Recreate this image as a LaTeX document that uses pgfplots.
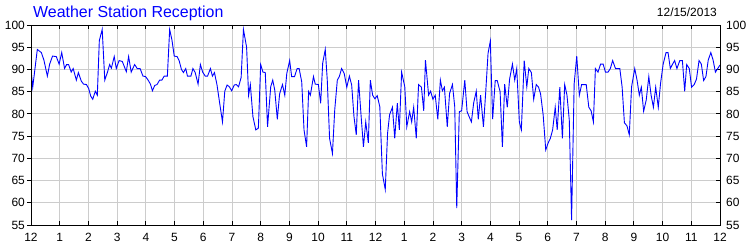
\documentclass[border=0pt]{standalone}
\usepackage{pgfplots}
\usepackage{pgfplotstable}
\pgfplotsset{compat=1.18}
\usepackage{fontspec}
\setmainfont{Liberation Sans}

\pgfplotstableread{
h v
0.00 90.0
0.06 86.0
0.22 94.5
0.36 93.8
0.45 92.1
0.57 88.5
0.65 91.2
0.75 93.0
0.88 92.9
0.98 91.2
1.07 93.8
1.17 90.2
1.24 91.1
1.31 91.1
1.40 89.4
1.47 90.2
1.58 87.6
1.65 89.3
1.75 87.4
1.83 86.7
1.93 86.6
2.01 85.7
2.08 84.0
2.15 83.3
2.24 85.1
2.31 84.2
2.38 96.5
2.48 99.0
2.57 87.6
2.66 89.3
2.74 91.1
2.80 90.3
2.90 92.9
2.97 90.2
3.07 92.0
3.18 91.8
3.32 89.5
3.40 92.9
3.49 89.4
3.61 91.1
3.70 90.2
3.80 90.2
3.90 88.5
3.99 88.4
4.08 87.6
4.16 86.7
4.23 85.2
4.31 86.4
4.39 86.6
4.48 87.6
4.56 87.6
4.64 88.5
4.75 88.5
4.83 99.0
4.91 96.6
4.99 93.0
5.09 92.9
5.16 92.0
5.24 90.0
5.31 89.3
5.39 90.2
5.45 88.5
5.57 88.5
5.64 90.2
5.72 89.3
5.82 86.7
5.90 91.1
5.98 89.4
6.07 88.5
6.15 88.5
6.25 90.2
6.32 88.5
6.39 89.3
6.48 86.5
6.57 82.5
6.67 78.2
6.75 85.1
6.83 86.5
6.91 86.1
6.99 85.2
7.08 86.5
7.15 86.6
7.23 86.1
7.32 88.2
7.40 99.0
7.51 95.0
7.58 84.2
7.64 86.6
7.73 79.4
7.83 76.4
7.92 76.8
8.00 91.1
8.08 89.4
8.16 89.3
8.24 77.1
8.35 86.1
8.42 87.6
8.49 85.4
8.58 78.8
8.66 84.5
8.76 86.6
8.84 84.2
8.91 89.1
9.01 92.0
9.08 88.4
9.18 88.4
9.27 90.2
9.34 90.2
9.43 87.2
9.51 76.4
9.60 72.6
9.67 85.0
9.73 84.2
9.84 88.4
9.90 86.7
10.01 86.6
10.09 82.4
10.16 91.4
10.25 94.5
10.32 87.6
10.40 74.5
10.50 71.1
10.58 80.9
10.67 87.6
10.74 88.4
10.82 90.2
10.91 89.1
11.00 86.0
11.09 88.5
11.17 86.5
11.25 79.4
11.33 75.3
11.41 87.6
11.50 79.4
11.58 72.6
11.66 78.2
11.75 73.5
11.82 87.6
11.90 84.2
11.98 83.4
12.06 84.1
12.15 81.6
12.24 66.5
12.34 63.0
12.42 75.6
12.49 79.8
12.59 81.5
12.67 74.5
12.76 82.4
12.83 76.4
12.91 89.4
13.02 86.1
13.09 77.1
13.19 80.5
13.26 78.2
13.33 81.5
13.42 74.5
13.50 86.6
13.60 86.0
13.68 80.7
13.74 92.1
13.85 84.2
13.92 85.1
14.00 83.3
14.08 84.2
14.17 78.8
14.26 87.6
14.33 85.2
14.40 86.0
14.50 77.1
14.58 84.6
14.68 86.6
14.76 81.6
14.83 58.8
14.92 80.5
15.00 80.7
15.11 87.6
15.19 80.5
15.26 79.4
15.34 78.2
15.42 82.5
15.51 85.1
15.58 78.8
15.66 84.2
15.76 77.1
15.84 85.0
15.92 93.6
16.00 96.4
16.08 78.8
16.17 87.5
16.24 87.5
16.34 85.0
16.42 72.6
16.50 86.7
16.59 81.5
16.67 87.8
16.77 91.2
16.85 87.6
16.92 90.2
17.01 78.2
17.08 76.4
17.18 92.0
17.27 86.1
17.34 90.2
17.43 89.3
17.51 83.3
17.60 86.6
17.68 86.0
17.75 84.5
17.84 79.8
17.93 71.9
18.01 73.4
18.09 74.5
18.17 76.4
18.26 81.5
18.33 76.4
18.42 86.0
18.51 74.5
18.59 86.6
18.67 84.2
18.75 78.6
18.83 56.1
18.92 86.8
19.01 93.0
19.10 84.2
19.18 86.6
19.26 86.6
19.34 86.6
19.43 81.5
19.51 80.7
19.59 78.2
19.66 90.2
19.75 89.4
19.84 91.2
19.93 91.2
20.01 89.4
20.10 89.4
20.18 90.2
20.26 92.0
20.36 90.2
20.51 90.2
20.59 86.1
20.67 78.0
20.76 77.3
20.84 75.3
20.92 86.1
21.03 90.2
21.11 87.6
21.19 84.2
21.26 86.0
21.34 80.6
21.43 83.1
21.52 88.4
21.60 84.2
21.68 81.5
21.76 86.0
21.85 81.5
21.93 86.9
22.02 91.2
22.12 93.8
22.19 93.8
22.27 90.2
22.34 91.1
22.42 92.0
22.50 90.2
22.60 92.0
22.69 92.0
22.77 85.1
22.84 91.1
22.93 90.2
23.01 86.0
23.10 86.6
23.18 87.8
23.27 92.0
23.35 91.2
23.43 87.5
23.51 88.4
23.59 92.1
23.68 93.8
23.76 92.1
23.84 89.4
23.92 90.2
24.00 91.0
}\reception

\pgfplotsset{
  common/.style={
    at={(31bp,25bp)}, anchor=south west,
    scale only axis, width=689bp, height=200bp,
    xmin=0, xmax=24, ymin=55, ymax=100,
    ytick={55,60,...,100},
    axis line style={black, line width=0.8bp},
    major tick length=4bp,
    every tick/.style={black, line width=0.8bp},
    tick label style={font=\fontsize{12}{14}\selectfont, text=black},
    /pgf/number format/assume math mode=true,
  }
}

\begin{document}
\begin{tikzpicture}
\useasboundingbox (0,0) rectangle (750bp,250bp);
\node[anchor=base west, text=blue, font=\fontsize{16}{18}\selectfont, inner sep=0pt] at (33bp,232.7bp) {Weather Station Reception};
\node[anchor=base east, text=black, font=\fontsize{12}{14}\selectfont, inner sep=0pt] at (717bp,233.3bp) {12/15/2013};

\begin{axis}[common,
  tick align=inside,
  xtick={0,...,24},
  xticklabels={12,1,2,3,4,5,6,7,8,9,10,11,12,1,2,3,4,5,6,7,8,9,10,11,12},
  xtick pos=both, xticklabel pos=bottom,
  ytick pos=right, yticklabel pos=right,
  grid=major,
  major grid style={draw=gray!40, line width=0.8bp},
  xticklabel style={anchor=north, inner sep=0pt, yshift=-8bp},
  yticklabel style={anchor=west, inner sep=0pt, xshift=6bp},
]
\addplot[blue, line width=0.9bp, mark=none] table[x=h, y=v] {\reception};
\end{axis}

\begin{axis}[common,
  tick align=outside,
  xtick=\empty,
  ytick pos=left, yticklabel pos=left,
  yticklabel style={anchor=east, inner sep=0pt, xshift=-2bp},
]
\end{axis}
\end{tikzpicture}
\end{document}
